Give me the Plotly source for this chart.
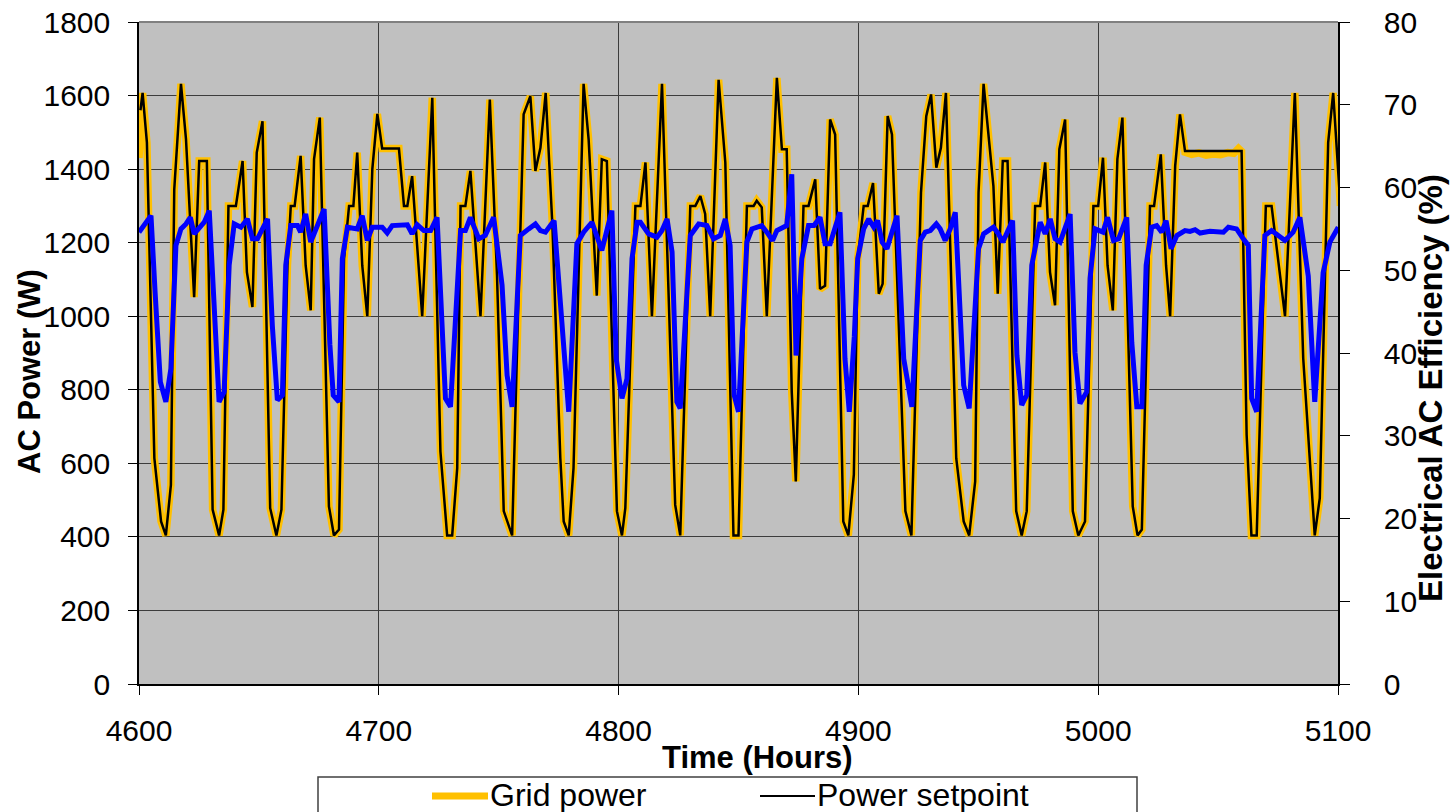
import plotly.graph_objects as go

# ---------------- data ----------------
setpoint_hours = [
    4600.6, 4601.5, 4603.3, 4606.4, 4609.2, 4611.2, 4613.3, 4614.7, 4617.5, 4619.6,
    4623.0, 4625.1, 4628.3, 4630.7, 4633.4, 4635.2, 4637.3, 4640.4, 4643.2, 4645.0,
    4647.3, 4649.1, 4651.5, 4654.7, 4657.3, 4659.4, 4661.9, 4663.3, 4664.9, 4667.4,
    4669.5, 4671.6, 4673.0, 4675.4, 4679.2, 4681.3, 4683.4, 4685.5, 4687.6, 4689.4,
    4691.0, 4693.1, 4695.2, 4697.3, 4699.4,
    4701.4, 4708.4, 4710.5, 4711.9, 4713.9, 4718.1, 4722.3, 4725.7, 4728.5, 4730.6,
    4732.7, 4734.1, 4736.1, 4738.2, 4742.4, 4746.3, 4749.3, 4752.1, 4755.6, 4758.3,
    4760.4, 4763.2, 4765.3, 4767.4, 4769.6, 4772.4, 4775.7, 4777.1, 4779.2, 4781.2,
    4785.4, 4787.5, 4790.9, 4793.0, 4795.1, 4799.3,
    4801.4, 4802.8, 4807.0, 4809.1, 4811.2, 4813.9, 4818.1, 4823.6, 4825.7, 4829.9,
    4832.0, 4834.1, 4836.1, 4838.2, 4841.7, 4844.5, 4847.9, 4850.0, 4853.5, 4856.3,
    4857.6, 4859.7, 4861.8, 4866.0, 4868.1, 4870.1, 4872.2, 4873.9, 4877.1, 4879.2,
    4882.0, 4884.0, 4886.1, 4888.2, 4890.3, 4893.7, 4895.8, 4898.1, 4899.7,
    4902.2, 4903.9, 4906.1, 4908.5, 4910.1, 4912.2, 4914.0, 4919.6, 4922.1, 4926.1,
    4928.3, 4930.3, 4932.5, 4934.4, 4936.5, 4940.8, 4943.9, 4946.2, 4948.7, 4950.1,
    4952.2, 4956.3, 4958.1, 4960.2, 4962.2, 4965.8, 4968.1, 4970.2, 4973.7, 4975.8,
    4977.9, 4979.9, 4982.0, 4983.8, 4986.2, 4989.4, 4991.7, 4994.5, 4998.0,
    5000.0, 5002.0, 5003.9, 5006.1, 5008.0, 5010.1, 5014.4, 5016.4, 5018.2, 5021.6,
    5023.3, 5026.1, 5028.3, 5030.0, 5032.1, 5034.1, 5036.2, 5059.8, 5061.9, 5063.9,
    5066.1, 5069.9, 5072.3, 5077.9, 5082.0, 5085.5, 5090.3, 5092.4, 5095.9, 5098.0,
    5101.0,
]
setpoint_w = [
    1560, 1607, 1472, 614, 442, 404, 541, 1345, 1632, 1481,
    1052, 1422, 1422, 474, 404, 474, 1300, 1300, 1422, 1120,
    1025, 1445, 1530, 478, 404, 474, 1138, 1300, 1300, 1436,
    1138, 1016, 1427, 1540, 483, 404, 420, 1156, 1300, 1300,
    1445, 1138, 1000, 1400, 1550,
    1456, 1456, 1300, 1300, 1381, 1000, 1594, 632, 404, 404,
    587, 1300, 1300, 1395, 1000, 1589, 1110, 470, 404, 1065,
    1549, 1598, 1395, 1458, 1607, 1246, 614, 442, 404, 587,
    1632, 1481, 1056, 1427, 1422, 470,
    404, 478, 1300, 1300, 1418, 1000, 1632, 487, 404, 1300,
    1300, 1327, 1278, 1000, 1643, 1418, 404, 404, 1300, 1300,
    1314, 1296, 1000, 1648, 1454, 1454, 795, 551, 1300, 1300,
    1372, 1074, 1083, 1535, 1494, 442, 404, 569, 1156,
    1300, 1300, 1362, 1061, 1088, 1544, 1494, 470, 404, 1336,
    1544, 1603, 1404, 1458, 1607, 614, 442, 404, 551, 1336,
    1632, 1354, 1061, 1422, 1422, 470, 404, 470, 1300, 1300,
    1418, 1120, 1030, 1454, 1535, 470, 404, 442, 1300,
    1300, 1431, 1138, 1016, 1427, 1540, 483, 404, 420, 1300,
    1300, 1440, 1138, 1000, 1409, 1549, 1449, 1449, 677, 404,
    404, 1300, 1300, 1000, 1607, 885, 404, 505, 1472, 1607,
    1300,
]

grid_hours = [
    4600.0, 4601.5, 4603.3, 4606.4, 4609.2, 4611.2, 4613.3, 4614.7, 4617.5, 4619.6,
    4623.0, 4625.1, 4628.3, 4630.7, 4633.4, 4635.2, 4637.3, 4640.4, 4643.2, 4645.0,
    4647.3, 4649.1, 4651.5, 4654.7, 4657.3, 4659.4, 4661.9, 4663.3, 4664.9, 4667.4,
    4669.5, 4671.6, 4673.0, 4675.4, 4679.2, 4681.3, 4683.4, 4685.5, 4687.6, 4689.4,
    4691.0, 4693.1, 4695.2, 4697.3, 4699.4,
    4701.4, 4708.4, 4710.5, 4711.9, 4713.9, 4718.1, 4722.3, 4725.7, 4728.5, 4730.6,
    4732.7, 4734.1, 4736.1, 4738.2, 4742.4, 4746.3, 4749.3, 4752.1, 4755.6, 4758.3,
    4760.4, 4763.2, 4765.3, 4767.4, 4769.6, 4772.4, 4775.7, 4777.1, 4779.2, 4781.2,
    4785.4, 4787.5, 4790.9, 4793.0, 4795.1, 4799.3,
    4801.4, 4802.8, 4807.0, 4809.1, 4811.2, 4813.9, 4818.1, 4823.6, 4825.7, 4829.9,
    4832.0, 4834.1, 4836.1, 4838.2, 4841.7, 4844.5, 4847.9, 4850.0, 4853.5, 4856.3,
    4857.6, 4859.7, 4861.8, 4866.0, 4868.1, 4870.1, 4872.2, 4873.9, 4877.1, 4879.2,
    4882.0, 4884.0, 4886.1, 4888.2, 4890.3, 4893.7, 4895.8, 4898.1, 4899.7,
    4902.2, 4903.9, 4906.1, 4908.5, 4910.1, 4912.2, 4914.0, 4919.6, 4922.1, 4926.1,
    4928.3, 4930.3, 4932.5, 4934.4, 4936.5, 4940.8, 4943.9, 4946.2, 4948.7, 4950.1,
    4952.2, 4956.3, 4958.1, 4960.2, 4962.2, 4965.8, 4968.1, 4970.2, 4973.7, 4975.8,
    4977.9, 4979.9, 4982.0, 4983.8, 4986.2, 4989.4, 4991.7, 4994.5, 4998.0,
    5000.0, 5002.0, 5003.9, 5006.1, 5008.0, 5010.1, 5014.4, 5016.4, 5018.2, 5021.6,
    5023.3, 5026.1, 5028.3, 5030.0, 5032.1, 5034.1, 5036.2, 5039.0, 5042.0, 5045.0,
    5048.0, 5051.0, 5054.0, 5056.5, 5058.5, 5059.8, 5061.9, 5063.9, 5066.1, 5069.9,
    5072.3, 5077.9, 5082.0, 5085.5, 5090.3, 5092.4, 5095.9, 5098.0, 5101.0,
]
grid_w = [
    1430, 1607, 1472, 614, 442, 404, 541, 1345, 1632, 1481,
    1052, 1422, 1422, 474, 404, 474, 1300, 1300, 1422, 1120,
    1025, 1445, 1530, 478, 404, 474, 1138, 1300, 1300, 1436,
    1138, 1016, 1427, 1540, 483, 404, 420, 1156, 1300, 1300,
    1445, 1138, 1000, 1400, 1550,
    1456, 1456, 1300, 1300, 1381, 1000, 1594, 632, 404, 404,
    587, 1300, 1300, 1395, 1000, 1589, 1110, 470, 404, 1065,
    1549, 1598, 1395, 1458, 1607, 1246, 614, 442, 404, 587,
    1632, 1481, 1056, 1427, 1422, 470,
    404, 478, 1300, 1300, 1418, 1000, 1632, 487, 404, 1300,
    1300, 1327, 1278, 1000, 1643, 1418, 404, 404, 1300, 1300,
    1314, 1296, 1000, 1648, 1454, 1454, 795, 551, 1300, 1300,
    1372, 1074, 1083, 1535, 1494, 442, 404, 569, 1156,
    1300, 1300, 1362, 1061, 1088, 1544, 1494, 470, 404, 1336,
    1544, 1603, 1404, 1458, 1607, 614, 442, 404, 551, 1336,
    1632, 1354, 1061, 1422, 1422, 470, 404, 470, 1300, 1300,
    1418, 1120, 1030, 1454, 1535, 470, 404, 442, 1300,
    1300, 1431, 1138, 1016, 1427, 1540, 483, 404, 420, 1300,
    1300, 1440, 1138, 1000, 1409, 1549, 1446, 1440, 1444, 1438,
    1441, 1439, 1445, 1443, 1456, 1448, 677, 404, 404, 1300,
    1300, 1000, 1607, 885, 404, 505, 1472, 1607, 1300,
]

eff_hours = [
    4600.0, 4602.5, 4605.0, 4606.7, 4608.9, 4611.2, 4613.3, 4615.4, 4617.5, 4619.6,
    4621.4, 4623.0, 4625.1, 4627.2, 4629.3, 4631.4, 4633.4, 4635.5, 4637.6, 4639.7,
    4642.5, 4645.2, 4647.3, 4649.4, 4651.5, 4653.6, 4655.6, 4657.7, 4659.8, 4661.2,
    4663.3, 4666.1, 4667.4, 4669.5, 4671.6, 4673.7, 4677.2, 4679.6, 4681.0, 4683.4,
    4684.8, 4686.9, 4691.0, 4693.1, 4695.2, 4697.3,
    4701.4, 4703.5, 4705.6, 4711.9, 4713.9, 4716.0, 4718.8, 4721.6, 4724.3, 4727.8,
    4729.9, 4734.1, 4736.1, 4738.2, 4741.7, 4744.4, 4747.9, 4751.4, 4753.5, 4755.6,
    4759.0, 4762.5, 4765.3, 4767.4, 4769.5, 4773.1, 4776.4, 4779.2, 4782.6, 4785.4,
    4788.9, 4793.0, 4797.2, 4799.0,
    4801.4, 4803.5, 4805.6, 4807.7, 4809.1, 4812.5, 4816.0, 4818.1, 4820.2, 4822.3,
    4824.3, 4825.7, 4829.9, 4833.4, 4836.8, 4839.6, 4842.4, 4844.5, 4846.5, 4848.2,
    4850.0, 4853.5, 4855.6, 4859.7, 4861.8, 4864.2, 4866.0, 4870.1, 4872.2, 4874.0,
    4876.4, 4879.2, 4881.5, 4884.0, 4886.1, 4888.2, 4892.3, 4894.4, 4896.2, 4898.3,
    4899.7,
    4902.2, 4904.3, 4906.4, 4908.0, 4909.9, 4911.9, 4916.1, 4918.9, 4922.3, 4925.8,
    4927.9, 4930.0, 4932.5, 4934.1, 4936.2, 4938.3, 4940.4, 4943.9, 4946.2, 4950.1,
    4952.2, 4956.3, 4958.4, 4960.2, 4964.3, 4966.1, 4968.1, 4970.2, 4972.3, 4975.8,
    4977.9, 4980.0, 4982.0, 4984.1, 4988.3, 4990.3, 4992.4, 4995.2, 4996.6, 4998.7,
    5002.0, 5003.9, 5006.4, 5008.5, 5011.9, 5014.0, 5016.1, 5018.2, 5020.0, 5022.3,
    5024.4, 5026.5, 5028.3, 5030.4, 5032.8, 5036.2, 5038.3, 5040.4, 5042.5, 5046.6,
    5050.1, 5052.2, 5054.3, 5057.7, 5060.5, 5062.6, 5064.0, 5066.1, 5069.5, 5072.3,
    5077.9, 5081.3, 5084.1, 5087.6, 5090.3, 5093.8, 5096.6, 5100.1,
]
eff_pct = [
    54.6, 55.6, 56.6, 47.4, 36.5, 34.1, 38.1, 53.0, 55.0, 55.6,
    56.4, 54.4, 55.0, 55.8, 57.2, 46.0, 34.1, 35.3, 50.6, 55.6,
    55.2, 56.2, 53.8, 53.8, 55.0, 56.2, 43.3, 34.3, 34.9, 50.6,
    55.4, 55.4, 54.6, 56.8, 53.4, 54.8, 57.4, 41.0, 34.9, 34.1,
    51.4, 55.2, 55.0, 56.6, 53.6, 55.2,
    55.2, 54.5, 55.4, 55.5, 54.4, 55.5, 54.8, 54.8, 56.4, 34.5,
    33.5, 54.8, 54.8, 56.4, 53.8, 54.2, 56.4, 48.2, 37.3, 33.5,
    54.2, 55.0, 55.6, 54.8, 54.6, 56.0, 43.3, 32.9, 53.2, 54.6,
    55.8, 52.4, 57.2, 39.3,
    34.5, 36.9, 51.4, 55.8, 55.8, 54.4, 54.0, 54.8, 56.2, 52.2,
    34.1, 33.3, 54.2, 55.6, 55.4, 53.8, 54.2, 56.2, 53.0, 34.9,
    32.9, 53.4, 55.0, 55.4, 54.6, 53.6, 54.8, 55.4, 61.6, 39.7,
    51.4, 55.4, 55.4, 56.4, 53.2, 53.2, 57.0, 39.3, 32.9, 42.0,
    51.4,
    55.0, 56.2, 55.2, 56.0, 53.4, 52.6, 56.6, 39.3, 33.5, 53.6,
    54.6, 54.8, 55.6, 55.0, 53.6, 55.0, 57.0, 36.1, 33.3, 52.6,
    54.4, 55.2, 54.4, 53.4, 56.0, 39.7, 33.7, 34.9, 50.6, 55.8,
    54.4, 56.2, 53.8, 53.4, 56.8, 40.1, 33.9, 35.3, 49.0, 55.0,
    54.6, 56.4, 53.6, 53.8, 56.4, 41.3, 33.5, 33.5, 50.6, 55.2,
    55.4, 54.6, 56.0, 52.6, 54.2, 54.8, 54.7, 54.9, 54.5, 54.7,
    54.7, 54.6, 55.2, 55.0, 53.8, 53.0, 34.5, 32.9, 54.2, 54.8,
    53.6, 54.6, 56.4, 49.3, 34.1, 49.7, 53.4, 55.2,
]

x_range = [4600, 5100]
power_range = [0, 1800]
eff_range = [0, 80]

# ---------------- figure ----------------
FONT = "Liberation Sans, Arial, Helvetica, sans-serif"
W, H = 1451, 812
L, T = 139, 22
R = W - 1338
B = H - 684
PW, PH = W - L - R, H - T - B


def px(X):
    return (X - L) / PW


def py(Y):
    return (H - B - Y) / PH


fig = go.Figure()
fig.add_trace(go.Scatter(x=grid_hours, y=grid_w, mode="lines", name="Grid power",
                         line=dict(color="#FFC000", width=7.5), showlegend=False))
fig.add_trace(go.Scatter(x=setpoint_hours, y=setpoint_w, mode="lines", name="Power setpoint",
                         line=dict(color="#000000", width=2.5), showlegend=False))
fig.add_trace(go.Scatter(x=eff_hours, y=eff_pct, mode="lines", name="Electrical AC efficiency",
                         line=dict(color="#0000FF", width=5), yaxis="y2", showlegend=False))

axis_common = dict(
    showline=True, linecolor="#000000", linewidth=1.5,
    ticks="outside", tickcolor="#000000", tickwidth=1,
    tickfont=dict(family=FONT, size=30, color="#000000"),
    zeroline=False, ticklabeloverflow="allow",
)

fig.update_layout(
    width=W, height=H,
    margin=dict(l=L, r=R, t=T, b=B, autoexpand=False),
    paper_bgcolor="#FFFFFF",
    plot_bgcolor="#C0C0C0",
    showlegend=False,
    xaxis=dict(range=x_range, dtick=100, tick0=4600, showgrid=True,
               gridcolor="#3c3c3c", gridwidth=1, ticklen=9,
               ticklabelstandoff=10, **axis_common),
    yaxis=dict(range=power_range, dtick=200, tick0=0, showgrid=True,
               gridcolor="#3c3c3c", gridwidth=1, ticklen=9,
               ticklabelstandoff=12, **axis_common),
    yaxis2=dict(range=eff_range, dtick=10, tick0=0, overlaying="y", side="right",
                showgrid=False, ticklen=10, ticklabelstandoff=28, **axis_common),
)

# top border of plot area
fig.add_shape(type="line", xref="paper", yref="paper", x0=0, x1=1, y0=1, y1=1,
              line=dict(color="#808080", width=2))

# axis titles
fig.add_annotation(text="<b>AC Power (W)</b>", xref="paper", yref="paper",
                   x=px(30), y=py(372), textangle=-90, showarrow=False,
                   xanchor="center", yanchor="middle",
                   font=dict(family=FONT, size=31, color="#000000"))
fig.add_annotation(text="<b>Electrical AC Efficiency (%)</b>", xref="paper", yref="paper",
                   x=px(1431), y=py(388), textangle=-90, showarrow=False,
                   xanchor="center", yanchor="middle",
                   font=dict(family=FONT, size=33, color="#000000"))
fig.add_annotation(text="<b>Time (Hours)</b>", xref="paper", yref="paper",
                   x=px(757), y=py(757), showarrow=False,
                   xanchor="center", yanchor="middle",
                   font=dict(family=FONT, size=31, color="#000000"))

# legend box (bottom, partly outside the picture as in the reference)
fig.add_shape(type="rect", xref="paper", yref="paper",
              x0=px(318), x1=px(1137), y0=py(777), y1=py(850),
              line=dict(color="#404040", width=1.5), fillcolor="#FFFFFF", layer="above")
fig.add_shape(type="line", xref="paper", yref="paper",
              x0=px(432), x1=px(488), y0=py(796), y1=py(796),
              line=dict(color="#FFC000", width=7))
fig.add_shape(type="line", xref="paper", yref="paper",
              x0=px(760), x1=px(815), y0=py(796), y1=py(796),
              line=dict(color="#000000", width=2))
legend_font = dict(family=FONT, size=32, color="#000000")
fig.add_annotation(text="Grid power", xref="paper", yref="paper",
                   x=px(488), y=py(795), showarrow=False,
                   xanchor="left", yanchor="middle", font=legend_font)
fig.add_annotation(text="Power setpoint", xref="paper", yref="paper",
                   x=px(815), y=py(795), showarrow=False,
                   xanchor="left", yanchor="middle", font=legend_font)

# remove the default 8px page margin so the figure fills the window exactly
fig.write_html("out.html", config={"displayModeBar": False},
               post_script="document.body.style.margin='0';")
